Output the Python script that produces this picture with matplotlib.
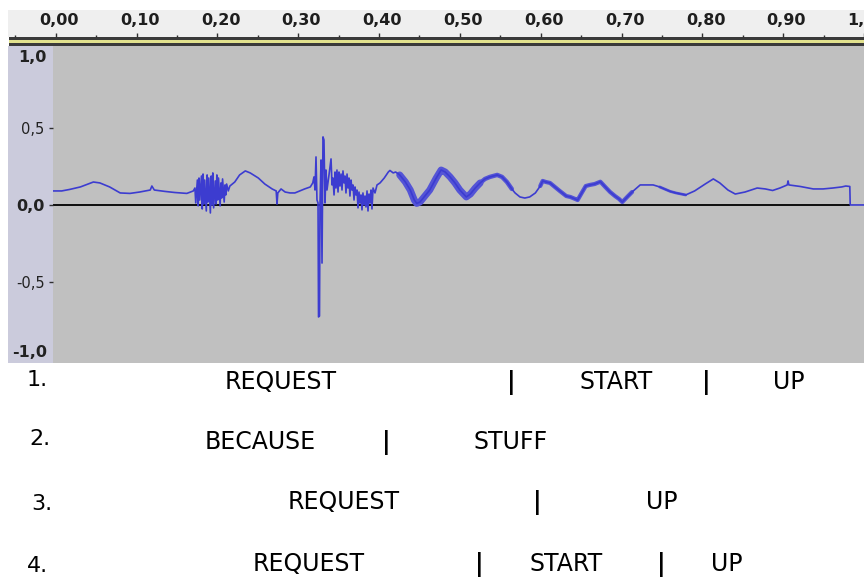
import matplotlib
matplotlib.use("Agg")
import matplotlib.pyplot as plt
from matplotlib.patches import Rectangle
from matplotlib.ticker import MultipleLocator
from matplotlib.transforms import blended_transform_factory

# waveform trace (seconds, amplitude)
wave_t = [-0.004, 0.007, 0.017, 0.030, 0.046, 0.054, 0.066, 0.079, 0.091, 0.103, 0.116, 0.118, 0.121, 0.134, 0.146, 0.161, 0.169,
          # first burst
          0.171, 0.172, 0.174, 0.175, 0.176, 0.177, 0.179, 0.180, 0.181, 0.182, 0.183, 0.185, 0.186, 0.187, 0.188, 0.190,
          0.191, 0.192, 0.193, 0.194, 0.196, 0.197, 0.198, 0.199, 0.200, 0.202, 0.203, 0.204, 0.205, 0.207, 0.208, 0.209,
          0.210, 0.212, 0.214,
          0.220, 0.226, 0.233, 0.239, 0.249, 0.257, 0.266, 0.271, 0.272, 0.273, 0.277, 0.282, 0.288, 0.294, 0.300, 0.306,
          0.313, 0.316,
          # click + second burst
          0.3175, 0.3188, 0.3200, 0.3212, 0.3225, 0.3231, 0.3243, 0.3249, 0.3262, 0.3274, 0.3286, 0.3298, 0.3311, 0.3323,
          0.3335, 0.3360, 0.3385, 0.3397, 0.3409, 0.3422, 0.3434, 0.3446, 0.3458, 0.3471, 0.3483, 0.3495, 0.3508, 0.3520,
          0.3532, 0.3545, 0.3557, 0.3569, 0.3582, 0.3594, 0.3606, 0.3618, 0.3631, 0.3643, 0.3655, 0.3668, 0.3680, 0.3692,
          0.3705, 0.3717, 0.3729, 0.3742, 0.3754, 0.3766, 0.3778, 0.3791, 0.3803, 0.3815, 0.3828, 0.3840, 0.3852, 0.3865,
          0.3877, 0.3889, 0.3902, 0.3926, 0.3951, 0.3988,
          0.404, 0.409, 0.411, 0.415, 0.418,
          # slow part
          0.423, 0.430, 0.436, 0.441, 0.444, 0.448, 0.454, 0.460, 0.468, 0.474, 0.479, 0.485, 0.491, 0.497, 0.505, 0.510,
          0.516, 0.522, 0.528, 0.534, 0.543, 0.549, 0.555, 0.561, 0.565, 0.571, 0.577, 0.583, 0.590, 0.596, 0.599, 0.603,
          0.608, 0.614, 0.620, 0.628, 0.633, 0.639, 0.642, 0.647, 0.652, 0.657, 0.663, 0.670, 0.676, 0.682, 0.688, 0.693,
          0.697, 0.703, 0.709, 0.719, 0.735, 0.743, 0.756, 0.763, 0.775, 0.786, 0.799, 0.809, 0.817, 0.827, 0.836, 0.848,
          0.863, 0.873, 0.882, 0.891, 0.900, 0.901, 0.902, 0.916, 0.932, 0.944, 0.956, 0.967, 0.972, 0.977, 0.9775, 0.9945]
wave_a = [0.091, 0.091, 0.101, 0.117, 0.149, 0.143, 0.117, 0.078, 0.075, 0.084, 0.097, 0.123, 0.097, 0.088, 0.081, 0.075, 0.091,
          0.110, 0.013, 0.162, -0.006, 0.175, 0.032, 0.188, -0.026, 0.201, 0.006, 0.162, -0.039, 0.195, 0.019, 0.175, -0.052,
          0.188, 0.000, 0.208, -0.019, 0.156, 0.006, 0.195, 0.032, 0.175, -0.006, 0.143, 0.045, 0.169, 0.019, 0.130, 0.065,
          0.136, 0.091, 0.123,
          0.149, 0.195, 0.221, 0.208, 0.175, 0.136, 0.104, 0.091, 0.006, 0.078, 0.104, 0.084, 0.078, 0.078, 0.091, 0.104,
          0.117, 0.143,
          0.182, 0.097, 0.312, 0.032, 0.013, -0.727, -0.721, 0.000, 0.292, -0.377, 0.442, 0.422, 0.013, 0.227,
          0.097, 0.195, 0.299, 0.130, 0.175, 0.065, 0.214, 0.110, 0.227, 0.084, 0.214, 0.123, 0.201, 0.097,
          0.221, 0.143, 0.188, 0.078, 0.201, 0.110, 0.175, 0.058, 0.162, 0.097, 0.130, 0.032, 0.117, 0.065,
          0.097, -0.019, 0.084, 0.013, 0.065, -0.032, 0.078, 0.000, 0.058, -0.013, 0.091, -0.039, 0.071, 0.013,
          0.097, -0.026, 0.110, 0.078, 0.130, 0.143,
          0.175, 0.214, 0.224, 0.208, 0.214,
          0.195, 0.149, 0.097, 0.032, 0.010, 0.019, 0.058, 0.097, 0.175, 0.227, 0.214, 0.182, 0.143, 0.097, 0.052, 0.071,
          0.110, 0.143, 0.169, 0.182, 0.195, 0.182, 0.149, 0.104, 0.078, 0.052, 0.045, 0.052, 0.078, 0.123, 0.156, 0.149,
          0.143, 0.117, 0.091, 0.058, 0.052, 0.039, 0.032, 0.078, 0.123, 0.130, 0.136, 0.151, 0.117, 0.084, 0.058, 0.039,
          0.019, 0.052, 0.084, 0.130, 0.130, 0.117, 0.088, 0.078, 0.065, 0.091, 0.136, 0.169, 0.143, 0.097, 0.071, 0.084,
          0.110, 0.104, 0.094, 0.110, 0.130, 0.156, 0.130, 0.120, 0.104, 0.104, 0.110, 0.117, 0.123, 0.120, 0.000, 0.000]
clip_end = 0.977

# noisy stretches drawn thicker: (start, end, line width)
bands = [(0.423, 0.522, 5.0), (0.522, 0.561, 3.2), (0.596, 0.710, 3.0), (0.743, 0.780, 2.0)]

ruler_ticks = [0.0, 0.1, 0.2, 0.3, 0.4, 0.5, 0.6, 0.7, 0.8, 0.9, 1.0]
ruler_labels = ["0,00", "0,10", "0,20", "0,30", "0,40", "0,50", "0,60", "0,70", "0,80", "0,90", "1,00"]
amp_ticks = [-0.5, 0.0, 0.5]
amp_labels = ["-0,5", "0,0", "0,5"]

# transcription rows: words and the time they sit under
row_numbers = ["1.", "2.", "3.", "4."]
row_words = [["REQUEST", "|", "START", "|", "UP"],
             ["BECAUSE", "|", "STUFF"],
             ["REQUEST", "|", "UP"],
             ["REQUEST", "|", "START", "|", "UP"]]
row_times = [[0.277, 0.560, 0.689, 0.800, 0.902],
             [0.251, 0.406, 0.560],
             [0.354, 0.593, 0.746],
             [0.311, 0.521, 0.628, 0.745, 0.826]]

W, H = 864, 578
fig = plt.figure(figsize=(W / 100, H / 100), dpi=100)
fig.patch.set_facecolor("white")


def px_rect(x0, y0, x1, y1, color):
    fig.add_artist(Rectangle((x0 / W, 1 - y1 / H), (x1 - x0) / W, (y1 - y0) / H,
                             transform=fig.transFigure, color=color, lw=0, zorder=-1))


# separator lines under the ruler and the track label panel
px_rect(9, 37, W, 39.5, "#3a3a3a")
px_rect(9, 39.5, W, 43.5, "#e2e28e")
px_rect(9, 43.5, W, 46, "#3a3a3a")
px_rect(8, 46, 53, 363, "#cbcbdc")

x0 = (53 - 56) / 812.5
x1 = (W - 56) / 812.5

# time ruler
ax_r = fig.add_axes([8 / W, 1 - 37 / H, (W - 8) / W, 27 / H])
ax_r.set_facecolor("#efefef")
ax_r.set_xlim((8 - 56) / 812.5, x1)
ax_r.set_ylim(0, 1)
for s in ax_r.spines.values():
    s.set_visible(False)
ax_r.set_xticks(ruler_ticks)
ax_r.xaxis.set_minor_locator(MultipleLocator(0.05))
ax_r.tick_params(axis="x", which="major", direction="in", length=3, width=1, color="#303030", labelbottom=False)
ax_r.tick_params(axis="x", which="minor", direction="in", length=1.6, width=1, color="#303030")
ax_r.set_yticks([])
for t, lab in zip(ruler_ticks, ruler_labels):
    ax_r.text(t + 0.004, 0.6, lab, ha="center", va="center", fontsize=11.5, fontweight="bold",
              color="#1e1e1e", clip_on=False)

# waveform
ax = fig.add_axes([53 / W, 1 - 363 / H, (W - 53) / W, 317 / H])
ax.set_facecolor("#c0c0c0")
ax.set_xlim(x0, x1)
ax.set_ylim(-1.026, 1.032)
for s in ax.spines.values():
    s.set_visible(False)
ax.set_xticks([])
ax.set_yticks(amp_ticks)
ax.set_yticklabels(amp_labels)
ax.tick_params(axis="y", direction="out", length=3, width=1, color="#303030", pad=3,
               labelsize=10.5, labelcolor="#222222")
ax.get_yticklabels()[1].set_fontweight("bold")
ax.get_yticklabels()[1].set_fontsize(11.5)
tr = blended_transform_factory(ax.transAxes, ax.transData)
ax.text(-0.0075, 0.96, "1,0", transform=tr, ha="right", va="center", fontsize=11.5,
        fontweight="bold", color="#222222")
ax.text(-0.0075, -0.955, "-1,0", transform=tr, ha="right", va="center", fontsize=11.5,
        fontweight="bold", color="#222222")

ax.hlines(0, x0, clip_end, color="black", lw=1.3, zorder=1)
for b0, b1, lw in bands:
    sel = [(t, a) for t, a in zip(wave_t, wave_a) if b0 <= t <= b1]
    ax.plot([p[0] for p in sel], [p[1] for p in sel], color="#5454d6", lw=lw,
            solid_capstyle="round", zorder=2)
ax.plot(wave_t, wave_a, color="#3c3cd0", lw=1.2, zorder=3)

# transcription rows below the track
ax_t = fig.add_axes([53 / W, 0, (W - 53) / W, (H - 363) / H])
ax_t.set_xlim(x0, x1)
ax_t.set_ylim(H, 363)
ax_t.axis("off")
num_t = [-0.023, -0.020, -0.018, -0.023]
num_y = [386, 445, 510, 572]
word_y = [389, 449, 509, 571]
for i in range(4):
    ax_t.text(num_t[i], num_y[i], row_numbers[i], ha="center", va="baseline", fontsize=16,
              color="black", clip_on=False)
    for w, t in zip(row_words[i], row_times[i]):
        ax_t.text(t, word_y[i], w, ha="center", va="baseline", fontsize=17,
                  fontweight="bold" if w == "|" else "normal", color="black", clip_on=False)

fig.savefig("out.png", dpi=100)
